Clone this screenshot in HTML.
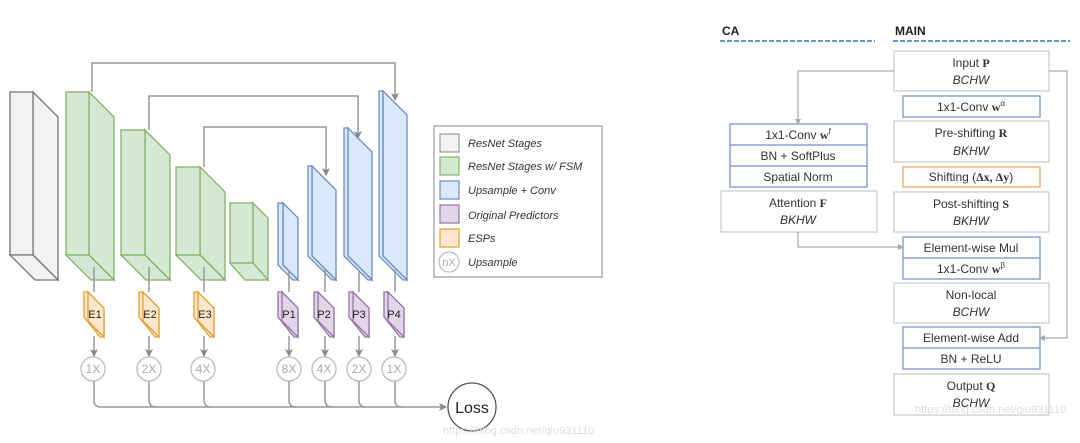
<!DOCTYPE html>
<html><head><meta charset="utf-8"><style>
html,body{margin:0;padding:0;background:#fff;}
svg{display:block;font-family:"Liberation Sans",sans-serif;}
</style></head><body>
<svg width="1080" height="443" viewBox="0 0 1080 443" xmlns="http://www.w3.org/2000/svg">
<defs>
<marker id="ah" markerWidth="8" markerHeight="8" refX="7" refY="4" orient="auto" markerUnits="userSpaceOnUse"><path d="M0,0 L8,4 L0,8 L2,4 z" fill="#888"/></marker>
<marker id="as" markerWidth="6" markerHeight="6" refX="5" refY="3" orient="auto" markerUnits="userSpaceOnUse"><path d="M0,0 L6,3 L0,6 z" fill="#aaa"/></marker>
</defs>
<!-- blocks -->
<g stroke-width="1.3">
<g fill="#f2f2f2" stroke="#777">
<polygon points="33,92 58,117 58,280 33,255"/><rect x="10" y="92" width="23" height="163"/><polygon points="10,255 33,255 58,280 35,280"/></g>
<g fill="#d5e8d4" stroke="#82b366">
<polygon points="89,92 114,117 114,280 89,255"/><rect x="66" y="92" width="23" height="163"/><polygon points="66,255 89,255 114,280 91,280"/>
<polygon points="145,130 170,155 170,280 145,255"/><rect x="121" y="130" width="24" height="125"/><polygon points="121,255 145,255 170,280 146,280"/>
<polygon points="200,167 225,192 225,280 200,255"/><rect x="176" y="167" width="24" height="88"/><polygon points="176,255 200,255 225,280 201,280"/>
<polygon points="253,203 268,218 268,280 253,263"/><rect x="230" y="203" width="23" height="60"/><polygon points="230,263 253,263 268,280 245,280"/></g>
<g fill="#dae8fc" stroke="#6c8ebf">
<polygon points="283,203 298,218 298,280 283,265"/><polygon points="278,203 283,203 283,265 298,280 293,280 278,265"/>
<polygon points="312,166 336,190 336,280 312,256"/><polygon points="308,166 312,166 312,256 336,280 332,280 308,256"/>
<polygon points="348,128 372,152 372,280 348,256"/><polygon points="344,128 348,128 348,256 372,280 368,280 344,256"/>
<polygon points="383,91 407,115 407,280 383,256"/><polygon points="379,91 383,91 383,256 407,280 403,280 379,256"/></g>
</g>
<!-- skip connections -->
<g fill="none" stroke="#999" stroke-width="1.5">
<polyline points="92,92 92,63 395,63 395,100" marker-end="url(#ah)"/>
<polyline points="149,130 149,96 358,96 358,138" marker-end="url(#ah)"/>
<polyline points="204,167 204,127 326,127 326,175" marker-end="url(#ah)"/>
</g>
<!-- columns -->
<g fill="none" stroke="#999" stroke-width="1.5">
<line x1="94" y1="267" x2="94" y2="292"/><line x1="149" y1="267" x2="149" y2="292"/><line x1="204" y1="267" x2="204" y2="292"/>
<line x1="289" y1="270" x2="289" y2="292"/><line x1="325" y1="270" x2="325" y2="292"/><line x1="359" y1="270" x2="359" y2="292"/><line x1="395" y1="270" x2="395" y2="292"/>
<g marker-end="url(#ah)">
<line x1="94" y1="336" x2="94" y2="356"/><line x1="149" y1="336" x2="149" y2="356"/><line x1="204" y1="336" x2="204" y2="356"/>
<line x1="289" y1="336" x2="289" y2="356"/><line x1="325" y1="336" x2="325" y2="356"/><line x1="359" y1="336" x2="359" y2="356"/><line x1="395" y1="336" x2="395" y2="356"/>
</g>
<path d="M94,381 V400 Q94,407 101,407 H446" marker-end="url(#ah)"/>
<path d="M149,381 V400 Q149,407 156,407"/><path d="M204,381 V400 Q204,407 211,407"/>
<path d="M289,381 V400 Q289,407 296,407"/><path d="M325,381 V400 Q325,407 332,407"/><path d="M359,381 V400 Q359,407 366,407"/><path d="M395,381 V400 Q395,407 402,407"/>
</g>
<!-- ESPs / predictors -->
<g stroke-width="1.3" font-size="11" text-anchor="middle">
<g fill="#ffe6cc" stroke="#e0a030">
<polygon points="84,292 88,292 104,312 104,337 100,337 84,317"/><polygon points="88,292 104,308 104,337 88,321" />
<polygon points="139,292 143,292 159,312 159,337 155,337 139,317"/><polygon points="143,292 159,308 159,337 143,321"/>
<polygon points="194,292 198,292 214,312 214,337 210,337 194,317"/><polygon points="198,292 214,308 214,337 198,321"/>
</g>
<g fill="#e1d5e7" stroke="#9673a6">
<polygon points="278,292 282,292 298,312 298,337 294,337 278,317"/><polygon points="282,292 298,308 298,337 282,321"/>
<polygon points="314,292 318,292 334,312 334,337 330,337 314,317"/><polygon points="318,292 334,308 334,337 318,321"/>
<polygon points="349,292 353,292 369,312 369,337 365,337 349,317"/><polygon points="353,292 369,308 369,337 353,321"/>
<polygon points="384,292 388,292 404,312 404,337 400,337 384,317"/><polygon points="388,292 404,308 404,337 388,321"/>
</g>
<g fill="#222" stroke="none">
<text x="95" y="318">E1</text><text x="150" y="318">E2</text><text x="205" y="318">E3</text>
<text x="289" y="318">P1</text><text x="324" y="318">P2</text><text x="359" y="318">P3</text><text x="394" y="318">P4</text>
</g>
</g>
<!-- circles -->
<g fill="#fff" stroke="#bbb" stroke-width="1.3">
<circle cx="93" cy="369" r="12"/><circle cx="149" cy="369" r="12"/><circle cx="203" cy="369" r="12"/>
<circle cx="289" cy="369" r="12"/><circle cx="324" cy="369" r="12"/><circle cx="359" cy="369" r="12"/><circle cx="394" cy="369" r="12"/>
<circle cx="472" cy="407" r="24" stroke="#555"/>
</g>
<g fill="#aaa" font-size="12" text-anchor="middle">
<text x="93" y="373">1X</text><text x="149" y="373">2X</text><text x="203" y="373">4X</text>
<text x="289" y="373">8X</text><text x="324" y="373">4X</text><text x="359" y="373">2X</text><text x="394" y="373">1X</text>
</g>
<text x="472" y="413" font-size="16" text-anchor="middle" fill="#222">Loss</text>
<!-- legend -->
<rect x="434" y="126" width="168" height="151" fill="#fff" stroke="#999" stroke-width="1.2"/>
<g stroke-width="1.2">
<rect x="440" y="134" width="19" height="18" fill="#f2f2f2" stroke="#999"/>
<rect x="440" y="157" width="19" height="18" fill="#d5e8d4" stroke="#82b366"/>
<rect x="440" y="181" width="19" height="18" fill="#dae8fc" stroke="#6c8ebf"/>
<rect x="440" y="205" width="19" height="18" fill="#e1d5e7" stroke="#9673a6"/>
<rect x="440" y="229" width="19" height="18" fill="#ffe6cc" stroke="#e0a030"/>
<circle cx="449" cy="262" r="10" fill="#fff" stroke="#bbb"/>
</g>
<text x="449" y="266" font-size="11" text-anchor="middle" fill="#aaa">nX</text>
<g font-size="11" font-style="italic" fill="#333">
<text x="468" y="147">ResNet Stages</text>
<text x="468" y="170">ResNet Stages w/ FSM</text>
<text x="468" y="194">Upsample + Conv</text>
<text x="468" y="219">Original Predictors</text>
<text x="468" y="242">ESPs</text>
<text x="468" y="266">Upsample</text>
</g>
<!-- right diagram -->
<g font-size="12" font-weight="bold" fill="#222"><text x="722" y="35">CA</text><text x="895" y="35">MAIN</text></g>
<g stroke="#5b9bd5" stroke-width="2" stroke-dasharray="5,2"><line x1="720" y1="41" x2="875" y2="41"/><line x1="893" y1="41" x2="1070" y2="41"/></g>
<g fill="#fff" stroke="#c8c8c8" stroke-width="1.2">
<rect x="894" y="51" width="155" height="40"/><rect x="894" y="121" width="155" height="41"/>
<rect x="894" y="192" width="155" height="40"/><rect x="894" y="283" width="155" height="40"/>
<rect x="894" y="374" width="155" height="41"/><rect x="721" y="191" width="156" height="41"/>
</g>
<g fill="#fff" stroke="#6f8fd0" stroke-width="1.2">
<rect x="903" y="96" width="137" height="21"/>
<rect x="903" y="237" width="137" height="42"/><line x1="903" y1="258" x2="1040" y2="258"/>
<rect x="903" y="327" width="137" height="42"/><line x1="903" y1="348" x2="1040" y2="348"/>
<rect x="730" y="124" width="137" height="63"/><line x1="730" y1="145" x2="867" y2="145"/><line x1="730" y1="166" x2="867" y2="166"/>
</g>
<rect x="903" y="167" width="137" height="20" fill="#fff" stroke="#f0a060" stroke-width="1.2"/>
<g fill="none" stroke="#aaa" stroke-width="1.2">
<polyline points="894,71 798,71 798,124" marker-end="url(#as)"/>
<polyline points="798,232 798,247 903,247" marker-end="url(#as)"/>
<polyline points="1049,71 1067,71 1067,338 1040,338" marker-end="url(#as)"/>
</g>
<g font-size="12" fill="#333" text-anchor="middle">
<text x="971" y="67">Input <tspan font-family="Liberation Serif" font-weight="bold">P</tspan></text>
<text x="971" y="84" font-style="italic">BCHW</text>
<text x="971" y="111">1x1-Conv <tspan font-family="Liberation Serif" font-weight="bold">w</tspan><tspan font-size="8" dy="-5">α</tspan></text>
<text x="971" y="137">Pre-shifting <tspan font-family="Liberation Serif" font-weight="bold">R</tspan></text>
<text x="971" y="155" font-style="italic">BKHW</text>
<text x="971" y="181">Shifting (<tspan font-family="Liberation Serif" font-weight="bold">Δx, Δy</tspan>)</text>
<text x="971" y="208">Post-shifting <tspan font-family="Liberation Serif" font-weight="bold">S</tspan></text>
<text x="971" y="225" font-style="italic">BKHW</text>
<text x="971" y="252">Element-wise Mul</text>
<text x="971" y="273">1x1-Conv <tspan font-family="Liberation Serif" font-weight="bold">w</tspan><tspan font-size="8" dy="-5">β</tspan></text>
<text x="971" y="299">Non-local</text>
<text x="971" y="316" font-style="italic">BCHW</text>
<text x="971" y="342">Element-wise Add</text>
<text x="971" y="363">BN + ReLU</text>
<text x="971" y="390">Output <tspan font-family="Liberation Serif" font-weight="bold">Q</tspan></text>
<text x="971" y="407" font-style="italic">BCHW</text>
<text x="798" y="139">1x1-Conv <tspan font-family="Liberation Serif" font-weight="bold">w</tspan><tspan font-size="8" dy="-5">f</tspan></text>
<text x="798" y="160">BN + SoftPlus</text>
<text x="798" y="181">Spatial Norm</text>
<text x="798" y="207">Attention <tspan font-family="Liberation Serif" font-weight="bold">F</tspan></text>
<text x="798" y="224" font-style="italic">BKHW</text>
</g>
<g font-size="11" fill="#ddd"><text x="443" y="434">https://blog.csdn.net/qiu931110</text><text x="915" y="413">https://blog.csdn.net/qiu931110</text></g>
</svg>
</body></html>
